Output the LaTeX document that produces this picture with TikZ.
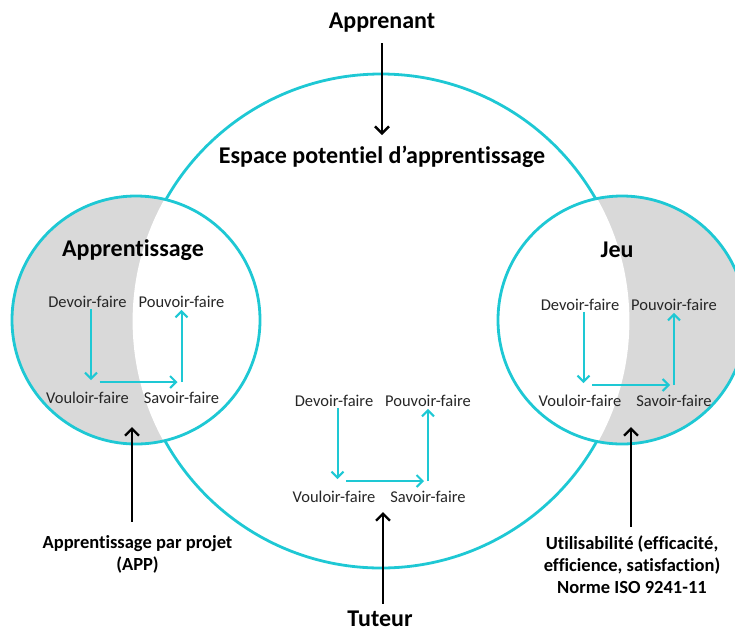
\documentclass[tikz,border=0pt]{standalone}
\usepackage{fontspec}
\setmainfont{Carlito}[Ligatures=NoCommon]
\usetikzlibrary{arrows.meta}
\definecolor{cy}{RGB}{30,200,212}
\definecolor{greyfill}{RGB}{217,217,217}
\definecolor{txt}{RGB}{38,38,38}
\newcommand{\triad}[3]{%
  \begin{scope}[shift={(#2,#3)}]
    \node[lab] (#1d) at (0,0) {Devoir-faire};
    \node[lab] (#1p) at (94,0) {Pouvoir-faire};
    \node[lab] (#1v) at (0,96) {Vouloir-faire};
    \node[lab] (#1s) at (94,96) {Savoir-faire};
    \coordinate (#1c1) at (3.5,78);
    \coordinate (#1c2) at (12,80);
    \coordinate (#1c3) at (90,80);
    \coordinate (#1c4) at (94,80);
    \draw[flow] ([yshift=-1pt]#1d.south -| #1c1) -- (#1c1);
    \draw[flow] (#1c2) -- (#1c3);
    \draw[flow] (#1c4) -- ([yshift=-2pt]#1p.south);
  \end{scope}}
\begin{document}
\begin{tikzpicture}[x=1pt,y=-1pt,
  ring/.style={draw=cy,line width=2.8pt},
  flow/.style={cy,line width=2pt,-{Straight Barb[length=6pt,width=12pt]}},
  ext/.style={black,line width=2.4pt,-{Straight Barb[length=7pt,width=14pt]}},
  title/.style={font=\fontsize{24}{28}\selectfont\bfseries,inner sep=0pt},
  lab/.style={font=\fontsize{16.5}{19}\selectfont,text=txt,inner sep=0pt},
  note/.style={font=\fontsize{18.5}{22}\selectfont\bfseries,align=center,inner sep=0pt}]
\useasboundingbox (0,0) rectangle (735,633);
\begin{scope}
\clip (0,0) rectangle (735,633);
% big circle
\draw[ring] (381,321) circle[radius=247];
% left circle
\fill[greyfill] (136,320) circle[radius=124];
\begin{scope}
  \clip (136,320) circle[radius=124];
  \fill[white] (381,321) circle[radius=248.4];
\end{scope}
\draw[ring] (136,320) circle[radius=124];
% right circle
\fill[greyfill] (622,320) circle[radius=124];
\begin{scope}
  \clip (622,320) circle[radius=124];
  \fill[white] (381,321) circle[radius=248.4];
\end{scope}
\draw[ring] (622,320) circle[radius=124];
\end{scope}
% titles
\node[title] (app) at (382,23) {Apprenant};
\node[title] (esp) at (382,157) {Espace potentiel d’apprentissage};
\node[title] (appr) at (133,250) {Apprentissage};
\node[title] (jeu) at (617,250) {Jeu};
\node[title] (tut) at (380,619) {Tuteur};
% triads
\triad{L}{87.5}{302}
\triad{M}{334}{401}
\triad{R}{580}{305}
% notes
\node[note] (app2) at (137.5,554) {Apprentissage par projet\\(APP)};
\node[note] (util) at (632,565) {Utilisabilité (efficacité,\\efficience, satisfaction)\\Norme ISO 9241-11};
% external arrows
\coordinate (appE) at (382,135);
\coordinate (tutE) at (383,512);
\coordinate (lE) at (132,427);
\coordinate (rE) at (631,427);
\draw[ext] (app.south |- 0,43) -- (appE);
\draw[ext] (tut.north -| tutE) ++(0,-7) -- (tutE);
\draw[ext] (app2.north -| lE) ++(0,-13) -- (lE);
\draw[ext] (util.north -| rE) ++(0,-9) -- (rE);
\end{tikzpicture}
\end{document}
